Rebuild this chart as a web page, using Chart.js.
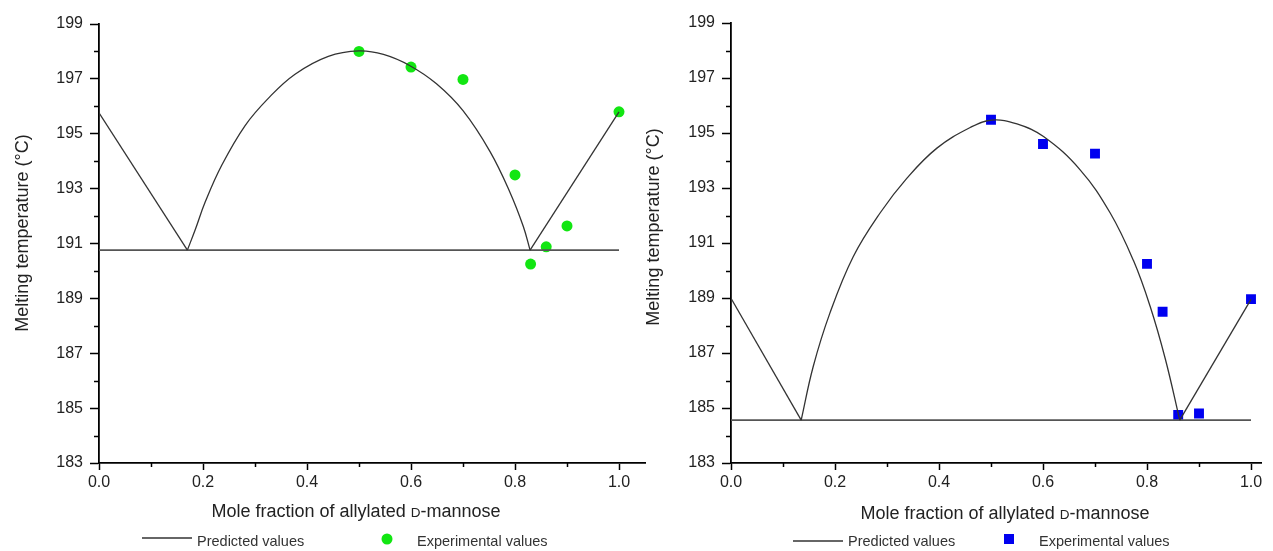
<!DOCTYPE html>
<html>
<head>
<meta charset="utf-8">
<script src="https://cdn.jsdelivr.net/npm/chart.js@4.4.1/dist/chart.umd.min.js"></script>
<style>
  html, body { margin: 0; padding: 0; background: #fff; }
  #wrap { position: relative; width: 1273px; height: 551px; }
  canvas { position: absolute; left: 0; top: 0; }
</style>
</head>
<body>
<div id="wrap">
  <canvas id="leftChart" width="1273" height="551"></canvas>
  <canvas id="rightChart" width="1273" height="551"></canvas>
</div>
<script>
// axis ticks
const xTicks = [0, 0.2, 0.4, 0.6, 0.8, 1.0];
const yTicks = [183, 185, 187, 189, 191, 193, 195, 197, 199];
const minorX = [0.1, 0.3, 0.5, 0.7, 0.9];
const minorY = [184, 186, 188, 190, 192, 194, 196, 198];

// experimental points (same mole fractions in both panels)
const expX = [0.5, 0.6, 0.7, 0.8, 0.83, 0.86, 0.9, 1.0];
const expGreenT = [198.0, 197.43, 196.98, 193.5, 190.25, 190.88, 191.64, 195.8];
const expBlueT = [195.48, 194.6, 194.25, 190.24, 188.5, 184.75, 184.8, 188.96];

// left panel predicted curve
const greenLineAX = [0, 0.17];
const greenLineAT = [195.76, 190.76];
const greenArcX = [0.17, 0.185, 0.204, 0.236, 0.281, 0.326, 0.377, 0.441, 0.5, 0.547, 0.598, 0.649, 0.7, 0.752, 0.79, 0.816, 0.829];
const greenArcT = [190.76, 191.5, 192.5, 193.85, 195.3, 196.3, 197.17, 197.82, 198.02, 197.89, 197.48, 196.82, 195.84, 194.35, 192.88, 191.62, 190.76];
const greenLineBX = [0.829, 1.0];
const greenLineBT = [190.76, 195.8];
const greenEutectic = 190.76;

// right panel predicted curve
const blueLineAX = [0, 0.135];
const blueLineAT = [188.99, 184.56];
const blueArcX = [0.135, 0.158, 0.19, 0.235, 0.287, 0.338, 0.396, 0.46, 0.501, 0.55, 0.601, 0.671, 0.729, 0.774, 0.806, 0.835, 0.863];
const blueArcT = [184.56, 186.5, 188.44, 190.5, 192.1, 193.35, 194.45, 195.2, 195.47, 195.33, 194.87, 193.67, 192.1, 190.36, 188.7, 186.8, 184.56];
const blueLineBX = [0.863, 1.0];
const blueLineBT = [184.56, 188.95];
const blueEutectic = 184.56;

const FONT = "'Liberation Sans', Arial, sans-serif";
const TEXT = "#222";
const W = 1273, H = 551;

function toPoints(xs, ys) {
  return xs.map((v, i) => ({ x: v, y: ys[i] }));
}

function lineSet(points, extra) {
  return Object.assign({
    data: points,
    showLine: true,
    borderColor: "#333",
    borderWidth: 1.3,
    pointRadius: 0,
    fill: false,
  }, extra || {});
}

function strokeLine(ctx, x1, y1, x2, y2) {
  ctx.beginPath();
  ctx.moveTo(x1, y1);
  ctx.lineTo(x2, y2);
  ctx.stroke();
}

// minor ticks, axis titles and legend
const decorations = {
  id: "decorations",
  afterDraw(chart, args, o) {
    const ctx = chart.ctx;
    const { x, y } = chart.scales;
    const area = chart.chartArea;

    ctx.save();
    ctx.strokeStyle = "#000";
    ctx.lineWidth = 1.5;
    minorX.forEach((v) => {
      const px = Math.round(x.getPixelForValue(v)) + 0.5;
      strokeLine(ctx, px, area.bottom, px, area.bottom + 4);
    });
    minorY.forEach((v) => {
      const py = Math.round(y.getPixelForValue(v)) + 0.5;
      strokeLine(ctx, area.left - 5, py, area.left, py);
    });

    // x title with small-caps D
    ctx.fillStyle = TEXT;
    ctx.textBaseline = "alphabetic";
    const parts = [
      ["Mole fraction of allylated ", "18px " + FONT],
      ["D", "13.5px " + FONT],
      ["-mannose", "18px " + FONT],
    ];
    let total = 0;
    parts.forEach((p) => { ctx.font = p[1]; total += ctx.measureText(p[0]).width; });
    let cx = o.xTitleX - total / 2;
    parts.forEach((p) => {
      ctx.font = p[1];
      ctx.fillText(p[0], cx, o.xTitleY);
      cx += ctx.measureText(p[0]).width;
    });

    // y title
    ctx.save();
    ctx.translate(o.yTitleX, o.yTitleY);
    ctx.rotate(-Math.PI / 2);
    ctx.font = "18px " + FONT;
    ctx.textAlign = "center";
    ctx.fillText("Melting temperature (\u00B0C)", 0, 0);
    ctx.restore();

    // legend
    const lg = o.legend;
    ctx.strokeStyle = "#333";
    ctx.lineWidth = 1.3;
    strokeLine(ctx, lg.lineX1, lg.lineY, lg.lineX2, lg.lineY);
    ctx.font = "14.5px " + FONT;
    ctx.fillStyle = "#333";
    ctx.fillText("Predicted values", lg.text1X, lg.baseline);
    ctx.fillText("Experimental values", lg.text2X, lg.baseline);
    ctx.fillStyle = o.markColor;
    if (o.markStyle === "circle") {
      ctx.beginPath();
      ctx.arc(lg.markX, lg.markY, 5.5, 0, Math.PI * 2);
      ctx.fill();
    } else {
      ctx.fillRect(lg.markX - 5, lg.markY - 5, 10, 10);
    }
    ctx.restore();
  },
};

function buildChart(canvasId, p) {
  const datasets = [
    lineSet(toPoints(p.lineAX, p.lineAT)),
    lineSet(toPoints(p.arcX, p.arcT), { tension: 0.4 }),
    lineSet(toPoints(p.lineBX, p.lineBT)),
    lineSet(toPoints([0, 1.0], [p.eutectic, p.eutectic]), { borderColor: "#555", borderWidth: 1.6 }),
    {
      data: toPoints(expX, p.expT),
      showLine: false,
      pointStyle: p.markStyle,
      pointRadius: p.markStyle === "circle" ? 5.5 : 7,
      backgroundColor: p.markColor,
      borderColor: p.markColor,
      borderWidth: 0,
    },
  ];

  return new Chart(document.getElementById(canvasId), {
    type: "scatter",
    data: { datasets: datasets },
    options: {
      responsive: false,
      animation: false,
      layout: { padding: { left: p.padLeft, right: W - p.right, top: p.top, bottom: 0 } },
      plugins: {
        legend: { display: false },
        tooltip: { enabled: false },
        decorations: p.deco,
      },
      scales: {
        x: {
          type: "linear",
          min: 0,
          max: p.xMax,
          afterBuildTicks: (s) => { s.ticks = xTicks.map((v) => ({ value: v })); },
          afterFit: (s) => { s.height = H - p.bottom; },
          ticks: {
            callback: (v) => Number(v).toFixed(1),
            color: TEXT,
            font: { family: FONT, size: 16 },
            padding: 3,
            maxRotation: 0,
            autoSkip: false,
          },
          grid: { drawOnChartArea: false, drawTicks: true, tickLength: 7, color: "#000", tickWidth: 1.5 },
          border: { color: "#000", width: 1.8 },
        },
        y: {
          type: "linear",
          min: 183,
          max: 199,
          afterBuildTicks: (s) => { s.ticks = yTicks.map((v) => ({ value: v })); },
          afterFit: (s) => { s.width = p.left - p.padLeft; },
          ticks: {
            color: TEXT,
            font: { family: FONT, size: 16 },
            padding: 7,
            autoSkip: false,
          },
          grid: { drawOnChartArea: false, drawTicks: true, tickLength: 9, color: "#000", tickWidth: 1.5 },
          border: { color: "#000", width: 1.8 },
        },
      },
    },
    plugins: [decorations],
  });
}

buildChart("leftChart", {
  padLeft: 0, left: 99, right: 645, top: 24, bottom: 463, xMax: 1.05,
  lineAX: greenLineAX, lineAT: greenLineAT,
  arcX: greenArcX, arcT: greenArcT,
  lineBX: greenLineBX, lineBT: greenLineBT,
  eutectic: greenEutectic,
  expT: expGreenT,
  markStyle: "circle", markColor: "#12e612",
  deco: {
    xTitleX: 356, xTitleY: 517, yTitleX: 28, yTitleY: 233,
    markStyle: "circle", markColor: "#12e612",
    legend: { lineX1: 142, lineX2: 192, lineY: 538, text1X: 197, text2X: 417, baseline: 546, markX: 387, markY: 539 },
  },
});

buildChart("rightChart", {
  padLeft: 636, left: 731, right: 1261.4, top: 23, bottom: 463, xMax: 1.02,
  lineAX: blueLineAX, lineAT: blueLineAT,
  arcX: blueArcX, arcT: blueArcT,
  lineBX: blueLineBX, lineBT: blueLineBT,
  eutectic: blueEutectic,
  expT: expBlueT,
  markStyle: "rect", markColor: "#0000f0",
  deco: {
    xTitleX: 1005, xTitleY: 519, yTitleX: 659, yTitleY: 227,
    markStyle: "rect", markColor: "#0000f0",
    legend: { lineX1: 793, lineX2: 843, lineY: 541, text1X: 848, text2X: 1039, baseline: 546, markX: 1009, markY: 539 },
  },
});
</script>
</body>
</html>
